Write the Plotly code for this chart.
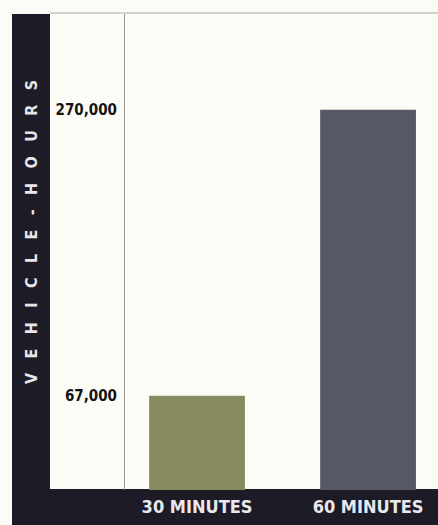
import plotly.graph_objects as go

categories = ["30 MINUTES", "60 MINUTES"]
values = [67000, 270000]
bar_colors = ["#878a5e", "#555866"]
tick_vals = [67000, 270000]
tick_text = ["67,000", "270,000"]
axis_title = "VEHICLE-HOURS"

W, H = 438, 525
L, R, T, B = 125, 0, 14, 35
pw, ph = W - L - R, H - T - B

def px(x):
    return (x - L) / pw

def py(y):
    return (H - B - y) / ph

dark = "#1d1b25"
bg = "#fcfcf6"
font_fam = "DejaVu Sans Condensed, Roboto Condensed, Arial Narrow, sans-serif"

fig = go.Figure(go.Bar(
    x=[0, 1], y=values, marker=dict(color=bar_colors, line=dict(width=0)),
    width=0.56, hoverinfo="skip"))

spaced = "\u2003".join(list(axis_title))

fig.update_layout(
    width=W, height=H, margin=dict(l=L, r=R, t=T, b=B),
    paper_bgcolor=bg, plot_bgcolor=bg, showlegend=False,
    xaxis=dict(range=[-0.421, 1.409], tickvals=[0, 1], ticktext=categories,
               showgrid=False, zeroline=False, showline=False, ticks="",
               tickfont=dict(family=font_fam, size=18, color="#e8e8ee", weight="bold"),
               ticklabelstandoff=4, fixedrange=True),
    yaxis=dict(range=[0, 338000], tickvals=tick_vals, ticktext=tick_text,
               showgrid=False, zeroline=False, showline=True, linecolor="#9a9a9a",
               linewidth=1, ticks="",
               tickfont=dict(family=font_fam, size=15, color="#141414", weight="bold"),
               ticklabelstandoff=4, fixedrange=True),
    shapes=[
        dict(type="rect", xref="paper", yref="paper", x0=px(12), x1=px(50),
             y0=py(H), y1=py(14), fillcolor=dark, line=dict(width=0), layer="below"),
        dict(type="rect", xref="paper", yref="paper", x0=px(12), x1=px(W),
             y0=py(H), y1=py(489), fillcolor=dark, line=dict(width=0), layer="below"),
        dict(type="line", xref="paper", yref="paper", x0=px(50), x1=px(W),
             y0=py(13), y1=py(13), line=dict(color="#a8a8a8", width=1)),
    ],
    annotations=[
        dict(text="<b>" + spaced + "</b>", xref="paper", yref="paper",
             x=px(31), y=py(232), textangle=-90, showarrow=False,
             font=dict(family=font_fam, size=16, color="#e6e6ec"),
             xanchor="center", yanchor="middle"),
    ],
)
fig.write_html("out.html")
